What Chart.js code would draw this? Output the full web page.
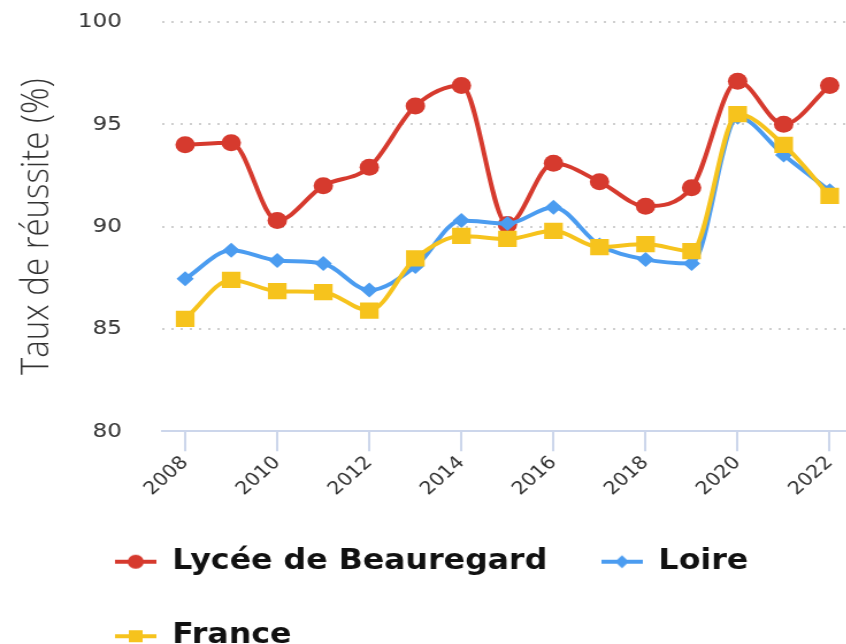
<!DOCTYPE html>
<html>
<head>
<meta charset="utf-8">
<script src="https://cdn.jsdelivr.net/npm/chart.js@4"></script>
<style>
  html, body { margin: 0; padding: 0; background: #fff; }
  #wrap { width: 846px; height: 644px; overflow: hidden; position: relative; }
  /* the reference picture is stretched sideways, so the canvas is too */
  canvas { position: absolute; left: 0; top: 0; transform: scaleX(1.15); transform-origin: 0 0; }
</style>
</head>
<body>
<div id="wrap"><canvas id="chart" width="753" height="660"></canvas></div>
<script>
// data
const years = ['2008', '2009', '2010', '2011', '2012', '2013', '2014', '2015', '2016', '2017', '2018', '2019', '2020', '2021', '2022'];
const beauregard = [94.0, 94.1, 90.3, 92.0, 92.9, 95.9, 96.9, 90.1, 93.1, 92.2, 91.0, 91.9, 97.1, 95.0, 96.9];
const loire = [87.45, 88.85, 88.35, 88.2, 86.9, 88.05, 90.3, 90.15, 90.95, 89.1, 88.4, 88.2, 95.35, 93.5, 91.75];
const france = [85.5, 87.4, 86.85, 86.8, 85.9, 88.45, 89.55, 89.4, 89.8, 89.0, 89.15, 88.8, 95.5, 94.0, 91.5];
const yTicks = [80, 85, 90, 95, 100];

const RED = '#d63a2e';
const BLUE = '#4b9cf0';
const YELLOW = '#f6c31d';

// small line + marker picture used in the legend
function legendSymbol(color, shape) {
    const c = document.createElement('canvas');
    c.width = 36;
    c.height = 20;
    const g = c.getContext('2d');
    g.strokeStyle = color;
    g.fillStyle = color;
    g.lineWidth = 4;
    g.beginPath();
    g.moveTo(0, 10);
    g.lineTo(36, 10);
    g.stroke();
    g.beginPath();
    if (shape === 'circle') {
        g.arc(18, 10, 7, 0, Math.PI * 2);
    } else if (shape === 'diamond') {
        g.moveTo(18, 3.5); g.lineTo(24, 10); g.lineTo(18, 16.5); g.lineTo(12, 10);
        g.closePath();
    } else {
        g.rect(12, 4, 12, 12);
    }
    g.fill();
    return c;
}
const symbols = [legendSymbol(RED, 'circle'), legendSymbol(BLUE, 'diamond'), legendSymbol(YELLOW, 'square')];

// legend rows start under the plot, as in the picture
const legendShift = {
    id: 'legendShift',
    afterLayout(chart) {
        if (chart.legend) chart.legend.left = 53;
    }
};

const ctx = document.getElementById('chart').getContext('2d');
new Chart(ctx, {
    type: 'line',
    data: {
        labels: years,
        datasets: [{
            label: 'Lycée de Beauregard',
            data: beauregard,
            borderColor: RED,
            backgroundColor: RED,
            borderWidth: 4,
            pointStyle: 'circle',
            pointRadius: 8.5,
            pointBorderWidth: 0,
            cubicInterpolationMode: 'monotone',
            order: 2
        }, {
            label: 'Loire',
            data: loire,
            borderColor: BLUE,
            backgroundColor: BLUE,
            borderWidth: 4,
            pointStyle: 'rectRot',
            pointRadius: 7.5,
            pointBorderWidth: 0,
            cubicInterpolationMode: 'monotone',
            order: 1
        }, {
            label: 'France',
            data: france,
            borderColor: YELLOW,
            backgroundColor: YELLOW,
            borderWidth: 4,
            pointStyle: 'rect',
            pointRadius: 11.5,
            pointBorderWidth: 0,
            cubicInterpolationMode: 'monotone',
            order: 0
        }]
    },
    options: {
        responsive: false,
        animation: false,
        layout: { padding: { top: 22, right: 5, left: 0, bottom: 0 } },
        plugins: {
            tooltip: { enabled: false },
            legend: {
                position: 'bottom',
                align: 'start',
                labels: {
                    usePointStyle: true,
                    pointStyleWidth: 36,
                    padding: 47,
                    color: '#111',
                    font: { family: 'DejaVu Sans', size: 27.5, weight: 'bold' },
                    generateLabels(chart) {
                        const items = Chart.defaults.plugins.legend.labels.generateLabels(chart);
                        items.sort((a, b) => a.datasetIndex - b.datasetIndex);
                        items.forEach(it => { it.pointStyle = symbols[it.datasetIndex]; });
                        return items;
                    }
                }
            }
        },
        scales: {
            x: {
                offset: true,
                grid: { drawOnChartArea: false, drawTicks: true, tickLength: 20, color: '#ccd6eb', lineWidth: 2 },
                border: { display: true, color: '#ccd6eb', width: 2 },
                ticks: {
                    autoSkip: true,
                    maxTicksLimit: 8,
                    minRotation: 45,
                    maxRotation: 45,
                    padding: 1,
                    color: '#333',
                    font: { family: 'DejaVu Sans', size: 18 }
                }
            },
            y: {
                min: 80,
                max: 100,
                afterBuildTicks(scale) {
                    scale.ticks = yTicks.map(v => ({ value: v }));
                },
                afterFit(scale) {
                    scale.width = 141;
                },
                grid: { color: '#cfcfcf', lineWidth: 2, drawTicks: true, tickLength: 35, tickColor: 'rgba(0,0,0,0)' },
                border: { display: false, dash: [2, 6] },
                ticks: {
                    padding: 0,
                    color: '#333',
                    font: { family: 'DejaVu Sans', size: 20 }
                },
                title: {
                    display: true,
                    text: 'Taux de réussite (%)',
                    color: '#333',
                    padding: { top: 13, bottom: 0 },
                    font: { family: 'Open Sans', size: 33, weight: 300 }
                }
            }
        }
    },
    plugins: [legendShift]
});
</script>
</body>
</html>
